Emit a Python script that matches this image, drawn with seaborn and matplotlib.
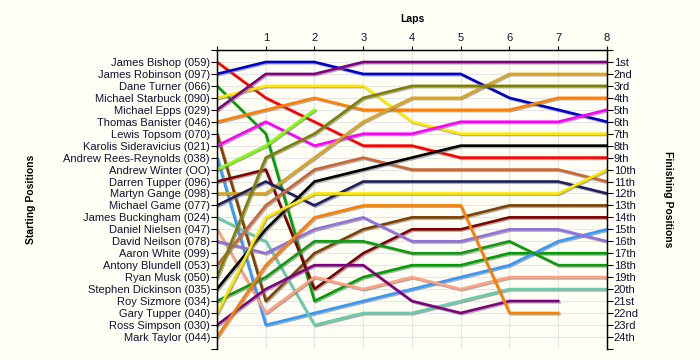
import numpy as np
import pandas as pd
import matplotlib
matplotlib.use("Agg")
import matplotlib.pyplot as plt
import matplotlib.patheffects as pe
import seaborn as sns

# starting grid (top to bottom)
drivers = [
    "James Bishop (059)", "James Robinson (097)", "Dane Turner (066)",
    "Michael Starbuck (090)", "Michael Epps (029)", "Thomas Banister (046)",
    "Lewis Topsom (070)", "Karolis Sideravicius (021)", "Andrew Rees-Reynolds (038)",
    "Andrew Winter (OO)", "Darren Tupper (096)", "Martyn Gange (098)",
    "Michael Game (077)", "James Buckingham (024)", "Daniel Nielsen (047)",
    "David Neilson (078)", "Aaron White (099)", "Antony Blundell (053)",
    "Ryan Musk (050)", "Stephen Dickinson (035)", "Roy Sizmore (034)",
    "Gary Tupper (040)", "Ross Simpson (030)", "Mark Taylor (044)",
]

colours = [
    "#FF0000", "#0000CC", "#00A000", "#FFE800", "#800080", "#FF8000",
    "#804000", "#FF00FF", "#3399FF", "#80FF00", "#800000", "#DAA520",
    "#202060", "#66CCAA", "#FFA080", "#9370DB", "#999999", "#CC6633",
    "#808000", "#000000", "#109A10", "#FFE800", "#800080", "#FF8000",
]

laps = [0, 1, 2, 3, 4, 5, 6, 7, 8]

N = np.nan
# position at end of each lap (lap 0 = grid), one row per driver
lap_positions = [
    [1, 4, 6, 8, 8, 9, 9, 9, 9],
    [2, 1, 1, 2, 2, 2, 4, 5, 6],
    [3, 7, 21, 19, 18, 18, 17, 17, 17],
    [4, 3, 3, 3, 6, 7, 7, 7, 7],
    [5, 2, 2, 1, 1, 1, 1, 1, 1],
    [6, 5, 4, 5, 5, 5, 5, 4, 4],
    [7, 21, 17, 15, 14, 14, 13, 13, 13],
    [8, 6, 8, 7, 7, 6, 6, 6, 5],
    [9, 23, 22, 21, 20, 19, 18, 16, 15],
    [10, 8, 5, N, N, N, N, N, N],
    [11, 10, 20, 17, 15, 15, 14, 14, 14],
    [12, 12, 9, 6, 4, 4, 2, 2, 2],
    [13, 11, 13, 11, 11, 11, 11, 11, 12],
    [14, 16, 23, 22, 22, 21, 20, 20, 20],
    [15, 22, 19, 20, 19, 20, 19, 19, 19],
    [16, 17, 15, 14, 16, 16, 15, 15, 16],
    [N, N, N, N, N, N, N, N, N],
    [18, 13, 10, 9, 10, 10, 10, 10, 11],
    [19, 9, 7, 4, 3, 3, 3, 3, 3],
    [20, 15, 11, 10, 9, 8, 8, 8, 8],
    [21, 19, 16, 16, 17, 17, 16, 18, 18],
    [22, 14, 12, 12, 12, 12, 12, 12, 10],
    [23, 20, 18, 18, 21, 22, 21, 21, N],
    [24, 18, 14, 13, 13, 13, 22, 22, N],
]

finish_labels = ["1st", "2nd", "3rd"] + [f"{i}th" for i in range(4, 21)] + \
                ["21st", "22nd", "23rd", "24th"]

rows = []
for name, pos in zip(drivers, lap_positions):
    for lap, p in zip(laps, pos):
        rows.append({"Driver": name, "Lap": lap, "Position": p})
df = pd.DataFrame(rows).dropna()

BG = "#FFFFF6"
TXT = "#111133"

plt.rcParams["font.family"] = ["Liberation Sans", "DejaVu Sans"]

fig = plt.figure(figsize=(7, 3.6), dpi=100, facecolor=BG)
ax = fig.add_axes([0.31, 0.031, 0.557, 0.830])
ax.set_facecolor(BG)

shadow = [pe.SimpleLineShadow(offset=(0.9, -0.9), shadow_color="#777777", alpha=0.6),
          pe.Normal()]

palette = dict(zip(drivers, colours))
sns.lineplot(data=df, x="Lap", y="Position", hue="Driver", hue_order=drivers,
             palette=palette, estimator=None, sort=False, legend=False,
             linewidth=1.9, ax=ax, path_effects=shadow)

ax.set_xlim(0, 8)
ax.set_ylim(25, 0)

# grid
for x in range(1, 8):
    ax.axvline(x, color="#E6E6E6", lw=0.8, zorder=0)
for y in range(1, 25):
    ax.axhline(y, color="#E6E6E6", lw=0.8, zorder=0)

ax.spines["bottom"].set_visible(False)
for side in ["left", "top", "right"]:
    ax.spines[side].set_color("black")
    ax.spines[side].set_linewidth(1.0)

# top lap axis
ax.xaxis.tick_top()
ax.set_xticks(laps)
ax.set_xticklabels([""] + [str(l) for l in laps[1:]], fontsize=8, color=TXT)
ax.tick_params(axis="x", direction="out", length=3, pad=2)
ax.set_xlabel("Laps", fontsize=7.5, fontweight="bold", labelpad=8)
ax.xaxis.set_label_position("top")

# starting positions
ax.set_yticks(range(0, 26))
ax.set_yticklabels([""] + drivers + [""], fontsize=8, color=TXT)
ax.tick_params(axis="y", direction="out", length=4, pad=1)
ax.set_ylabel("Starting Positions", fontsize=7.5, fontweight="bold", labelpad=0)
ax.yaxis.set_label_coords(-0.465, 0.5)

# finishing positions
ax2 = ax.twinx()
ax2.set_ylim(25, 0)
ax2.set_yticks(range(0, 26))
ax2.set_yticklabels([""] + finish_labels + [""], fontsize=8, color=TXT)
ax2.tick_params(axis="y", direction="out", length=4, pad=1)
ax2.spines["bottom"].set_visible(False)
ax2.set_ylabel("Finishing Positions", fontsize=7.5, fontweight="bold", rotation=270)
ax2.yaxis.set_label_coords(1.17, 0.5)

fig.savefig("out.png", dpi=100, facecolor=BG)
